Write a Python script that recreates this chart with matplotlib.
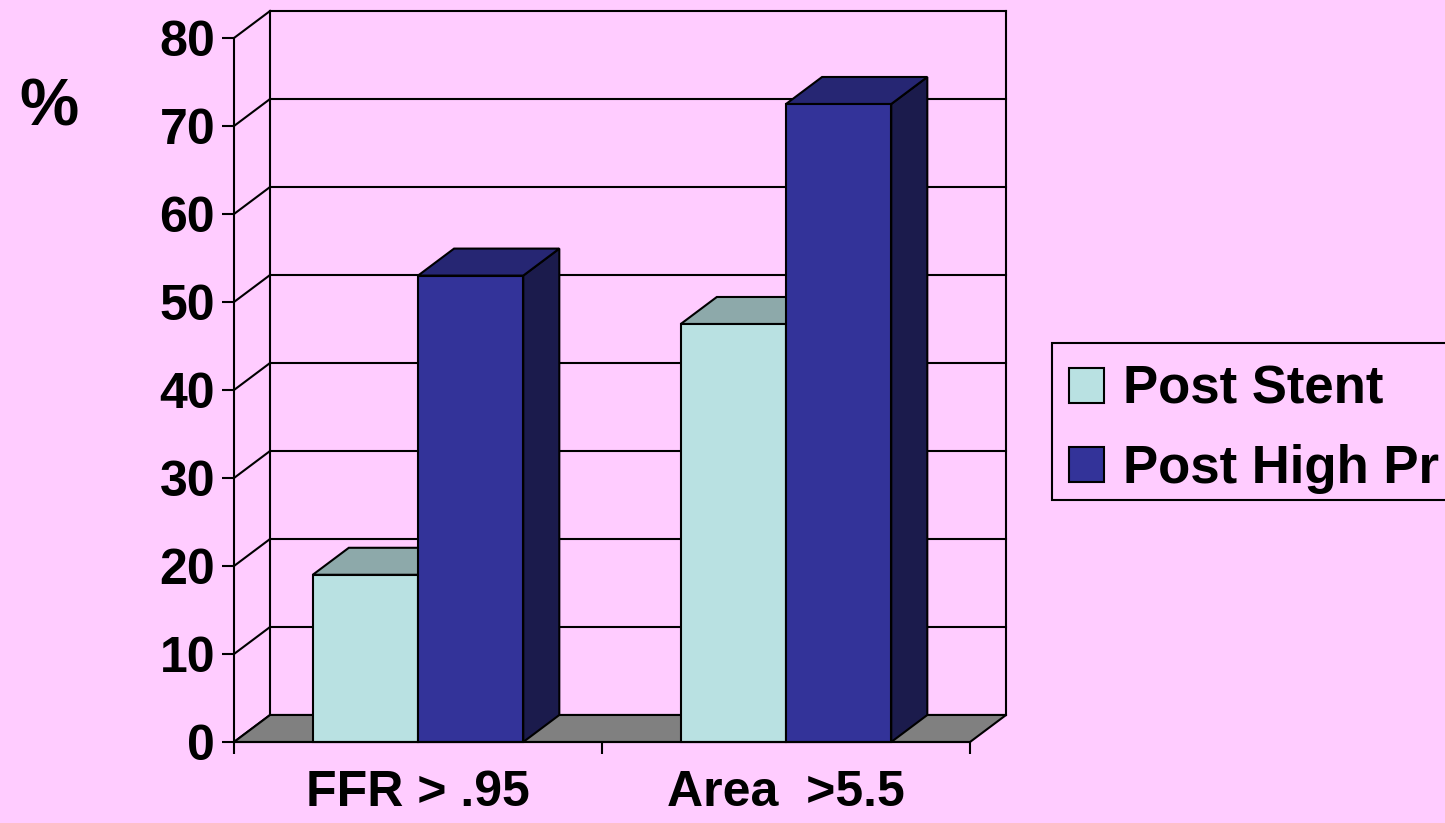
import matplotlib.pyplot as plt
from matplotlib.patches import Polygon, Patch, Rectangle

# data
categories = ["FFR > .95", "Area  >5.5"]
series_names = ["Post Stent", "Post High Pr"]
post_stent = [19, 47.5]
post_high = [53, 72.5]
yticks = list(range(0, 81, 10))

bg = "#FFCCFF"
light = ("#B9E1E2", "#8DA9AA", "#5E7273")   # front, top, side
dark = ("#333399", "#262673", "#1B1B4C")

# fake 3d depth (data units)
dx, dy = 0.098, 3.07
bar_w = 0.286
lw = 1.5

plt.rcParams["font.family"] = ["Liberation Sans", "DejaVu Sans"]
plt.rcParams["font.weight"] = "bold"

fig = plt.figure(figsize=(14.45, 8.23), dpi=100, facecolor=bg)
W, H = 1445, 823
ax = fig.add_axes([234 / W, (H - 742) / H, 736 / W, 704 / H])
ax.set_facecolor("none")
ax.set_xlim(0, len(categories))
ax.set_ylim(0, 80)


def poly(pts, fc, z=1):
    ax.add_patch(Polygon(pts, closed=True, facecolor=fc, edgecolor="black",
                         linewidth=lw, joinstyle="miter", clip_on=False, zorder=z))


ncat = len(categories)
top = yticks[-1]

# back wall + gridlines + side wall diagonals
for v in yticks:
    ax.plot([dx, ncat + dx], [v + dy, v + dy], color="black", lw=lw,
            clip_on=False, zorder=0.5)
    ax.plot([0, dx], [v, v + dy], color="black", lw=lw, clip_on=False, zorder=0.5)
ax.plot([dx, dx], [dy, top + dy], color="black", lw=lw, clip_on=False, zorder=0.5)
ax.plot([ncat + dx, ncat + dx], [dy, top + dy], color="black", lw=lw,
        clip_on=False, zorder=0.5)

# floor
poly([(0, 0), (ncat, 0), (ncat + dx, dy), (dx, dy)], "#808080", z=0.8)


def bar3d(x0, h, cols):
    front, topc, side = cols
    poly([(x0 + bar_w, 0), (x0 + bar_w + dx, dy), (x0 + bar_w + dx, h + dy),
          (x0 + bar_w, h)], side, z=2)
    poly([(x0, h), (x0 + bar_w, h), (x0 + bar_w + dx, h + dy), (x0 + dx, h + dy)],
         topc, z=2)
    poly([(x0, 0), (x0 + bar_w, 0), (x0 + bar_w, h), (x0, h)], front, z=2)


for i in range(ncat):
    bar3d(i + 0.5 - bar_w, post_stent[i], light)
    bar3d(i + 0.5, post_high[i], dark)

# axes
for s in ["top", "right"]:
    ax.spines[s].set_visible(False)
for s in ["left", "bottom"]:
    ax.spines[s].set_linewidth(lw)
ax.set_yticks(yticks)
ax.set_yticklabels([str(v) for v in yticks], fontsize=36, fontweight="bold")
ax.tick_params(axis="y", length=8.6, width=lw, pad=5)
ax.set_xticks(range(ncat + 1))
ax.set_xticklabels([])
ax.tick_params(axis="x", which="major", length=8.6, width=lw)
ax.set_xticks([i + 0.5 for i in range(ncat)], minor=True)
ax.set_xticklabels(categories, minor=True, fontsize=36, fontweight="bold")
ax.tick_params(axis="x", which="minor", length=0, pad=20)

fig.text(49 / W, 1 - 109 / H, "%", fontsize=48, fontweight="bold",
         ha="center", va="center")

# legend: box runs past the right edge of the figure
fig.add_artist(Rectangle((1052 / W, 1 - 500 / H), 420 / W, 157 / H,
                         transform=fig.transFigure, facecolor=bg,
                         edgecolor="black", linewidth=lw, zorder=3))
handles = [Patch(facecolor=light[0], edgecolor="black", linewidth=lw),
           Patch(facecolor=dark[0], edgecolor="black", linewidth=lw)]
leg = fig.legend(handles, series_names, loc="upper left",
                 bbox_to_anchor=(1069 / W, 1 - 365 / H),
                 prop={"size": 38, "weight": "bold"},
                 handlelength=0.66, handleheight=0.66, handletextpad=0.36,
                 labelspacing=0.55, borderpad=0, borderaxespad=0,
                 frameon=False)
leg.set_zorder(4)

fig.savefig("out.png", dpi=100, facecolor=bg)
